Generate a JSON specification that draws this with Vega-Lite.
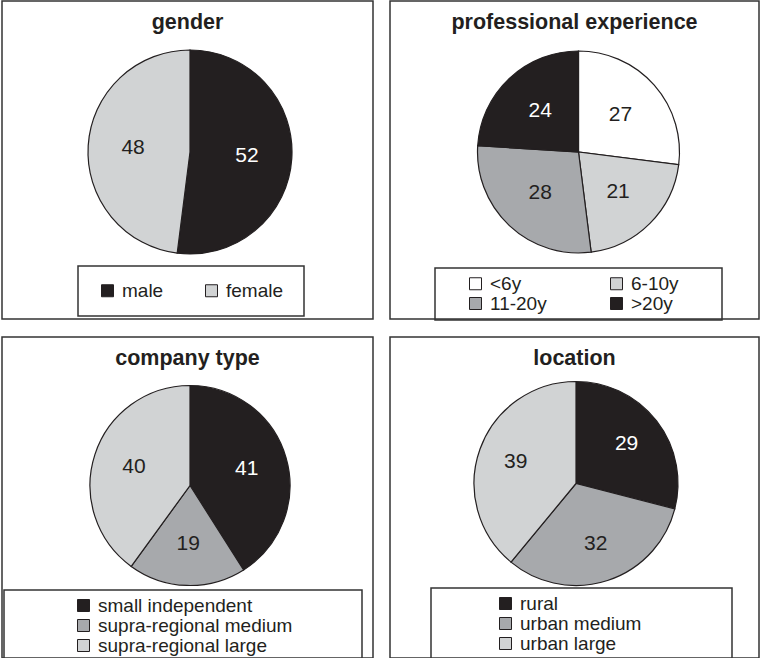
{
  "$schema": "https://vega.github.io/schema/vega-lite/v6.json",
  "padding": {"left": 1, "top": 0, "right": 0, "bottom": 0},
  "spacing": 14,
  "resolve": {"scale": {"color": "independent", "theta": "independent"}, "legend": {"color": "independent"}},
  "config": {
    "font": "Liberation Sans",
    "view": {"stroke": "#333333", "strokeWidth": 1.5},
    "title": {"font": "Liberation Sans", "fontSize": 21.5, "fontWeight": "bold", "color": "#231f20", "anchor": "middle", "offset": -32},
    "text": {"font": "Liberation Sans", "fontSize": 21},
    "legend": {
      "title": null,
      "labelFont": "Liberation Sans",
      "labelFontSize": 19,
      "labelColor": "#231f20",
      "labelLimit": 500,
      "labelOffset": 5,
      "symbolType": "square",
      "symbolSize": 144,
      "symbolStrokeColor": "#231f20",
      "symbolStrokeWidth": 1,
      "rowPadding": 0,
      "strokeColor": "#333333"
    }
  },
  "vconcat": [
    {
      "spacing": 15,
      "resolve": {"scale": {"color": "independent", "theta": "independent"}, "legend": {"color": "independent"}},
      "hconcat": [
        {
          "width": 371,
          "height": 318,
          "view": {"stroke": "#333333", "strokeWidth": 1.5},
          "title": {"text": "gender"},
          "data": {"values": [
            {"c": "male", "v": 52, "i": 1},
            {"c": "female", "v": 48, "i": 2}
          ]},
          "layer": [
            {
              "mark": {"type": "arc", "radius": 102, "xOffset": 2.5, "yOffset": -8, "stroke": "#231f20", "strokeWidth": 1.2},
              "encoding": {
                "theta": {"field": "v", "type": "quantitative", "stack": true},
                "order": {"field": "i", "type": "quantitative"},
                "color": {
                  "field": "c", "type": "nominal",
                  "scale": {"domain": ["male", "female"], "range": ["#231f20", "#d1d3d4"]},
                  "legend": {
                    "orient": "none", "legendX": 76, "legendY": 265,
                    "columns": 2, "columnPadding": 33, "padding": 15, "symbolOffset": 5,
                    "labelExpr": "datum.label == 'female' ? datum.label + '\u00a0\u200b' : datum.label",
                    "encode": {
                      "legend": {"update": {"stroke": {"value": "#333333"}, "strokeWidth": {"value": 1.5}}},
                      "symbols": {"update": {"stroke": {"value": "#231f20"}, "strokeWidth": {"value": 1}}}
                    }
                  }
                }
              }
            },
            {
              "mark": {"type": "text", "radius": 57, "xOffset": 2.5, "yOffset": -8},
              "encoding": {
                "theta": {"field": "v", "type": "quantitative", "stack": true},
                "order": {"field": "i", "type": "quantitative"},
                "detail": {"field": "c", "type": "nominal"},
                "text": {"field": "v", "type": "quantitative"},
                "color": {"condition": {"test": "datum.c == 'male'", "value": "#ffffff"}, "value": "#231f20"}
              }
            }
          ]
        },
        {
          "width": 369,
          "height": 318,
          "view": {"stroke": "#333333", "strokeWidth": 1.5},
          "title": {"text": "professional experience"},
          "data": {"values": [
            {"c": "<6y", "v": 27, "i": 1},
            {"c": "6-10y", "v": 21, "i": 2},
            {"c": "11-20y", "v": 28, "i": 3},
            {"c": ">20y", "v": 24, "i": 4}
          ]},
          "layer": [
            {
              "mark": {"type": "arc", "radius": 101, "xOffset": 4, "yOffset": -8, "stroke": "#231f20", "strokeWidth": 1.2},
              "encoding": {
                "theta": {"field": "v", "type": "quantitative", "stack": true},
                "order": {"field": "i", "type": "quantitative"},
                "color": {
                  "field": "c", "type": "nominal",
                  "scale": {"domain": ["<6y", "11-20y", "6-10y", ">20y"], "range": ["#ffffff", "#a7a9ac", "#d1d3d4", "#231f20"]},
                  "legend": {
                    "orient": "none", "legendX": 45, "legendY": 267,
                    "columns": 2, "columnPadding": 35, "padding": 6, "symbolOffset": 25,
                    "labelExpr": "datum.label == '6-10y' ? datum.label + '\u00a0\u00a0\u00a0\u00a0\u00a0\u00a0\u00a0\u200b' : datum.label",
                    "encode": {
                      "legend": {"update": {"stroke": {"value": "#333333"}, "strokeWidth": {"value": 1.5}}},
                      "symbols": {"update": {"stroke": {"value": "#231f20"}, "strokeWidth": {"value": 1}}}
                    }
                  }
                }
              }
            },
            {
              "mark": {"type": "text", "radius": 56, "xOffset": 4, "yOffset": -8},
              "encoding": {
                "theta": {"field": "v", "type": "quantitative", "stack": true},
                "order": {"field": "i", "type": "quantitative"},
                "detail": {"field": "c", "type": "nominal"},
                "text": {"field": "v", "type": "quantitative"},
                "color": {"condition": {"test": "datum.c == '>20y'", "value": "#ffffff"}, "value": "#231f20"}
              }
            }
          ]
        }
      ]
    },
    {
      "spacing": 15,
      "resolve": {"scale": {"color": "independent", "theta": "independent"}, "legend": {"color": "independent"}},
      "hconcat": [
        {
          "width": 371,
          "height": 321,
          "view": {"stroke": "#333333", "strokeWidth": 1.5},
          "title": {"text": "company type"},
          "data": {"values": [
            {"c": "small independent", "v": 41, "i": 1},
            {"c": "supra-regional medium", "v": 19, "i": 2},
            {"c": "supra-regional large", "v": 40, "i": 3}
          ]},
          "layer": [
            {
              "mark": {"type": "arc", "radius": 100, "xOffset": 2.5, "yOffset": -12, "stroke": "#231f20", "strokeWidth": 1.2},
              "encoding": {
                "theta": {"field": "v", "type": "quantitative", "stack": true},
                "order": {"field": "i", "type": "quantitative"},
                "color": {
                  "field": "c", "type": "nominal",
                  "scale": {"domain": ["small independent", "supra-regional medium", "supra-regional large"], "range": ["#231f20", "#a7a9ac", "#d1d3d4"]},
                  "legend": {
                    "orient": "none", "legendX": 2, "legendY": 253,
                    "columns": 1, "padding": 6, "symbolOffset": 64,
                    "labelExpr": "datum.label + '\u00a0\u00a0\u00a0\u00a0\u00a0\u00a0\u00a0\u00a0\u00a0\u00a0\u00a0\u00a0\u200b'",
                    "encode": {
                      "legend": {"update": {"stroke": {"value": "#333333"}, "strokeWidth": {"value": 1.5}}},
                      "symbols": {"update": {"stroke": {"value": "#231f20"}, "strokeWidth": {"value": 1}}}
                    }
                  }
                }
              }
            },
            {
              "mark": {"type": "text", "radius": 59, "xOffset": 2.5, "yOffset": -12},
              "encoding": {
                "theta": {"field": "v", "type": "quantitative", "stack": true},
                "order": {"field": "i", "type": "quantitative"},
                "detail": {"field": "c", "type": "nominal"},
                "text": {"field": "v", "type": "quantitative"},
                "color": {"condition": {"test": "datum.c == 'small independent'", "value": "#ffffff"}, "value": "#231f20"}
              }
            }
          ]
        },
        {
          "width": 369,
          "height": 321,
          "view": {"stroke": "#333333", "strokeWidth": 1.5},
          "title": {"text": "location"},
          "data": {"values": [
            {"c": "rural", "v": 29, "i": 1},
            {"c": "urban medium", "v": 32, "i": 2},
            {"c": "urban large", "v": 39, "i": 3}
          ]},
          "layer": [
            {
              "mark": {"type": "arc", "radius": 102, "xOffset": 1.5, "yOffset": -14, "stroke": "#231f20", "strokeWidth": 1.2},
              "encoding": {
                "theta": {"field": "v", "type": "quantitative", "stack": true},
                "order": {"field": "i", "type": "quantitative"},
                "color": {
                  "field": "c", "type": "nominal",
                  "scale": {"domain": ["rural", "urban medium", "urban large"], "range": ["#231f20", "#a7a9ac", "#d1d3d4"]},
                  "legend": {
                    "orient": "none", "legendX": 41, "legendY": 251,
                    "columns": 1, "padding": 6, "symbolOffset": 59,
                    "labelExpr": "datum.label + '\u00a0\u00a0\u00a0\u00a0\u00a0\u00a0\u00a0\u00a0\u00a0\u00a0\u00a0\u00a0\u00a0\u00a0\u00a0\u00a0\u200b'",
                    "encode": {
                      "legend": {"update": {"stroke": {"value": "#333333"}, "strokeWidth": {"value": 1.5}}},
                      "symbols": {"update": {"stroke": {"value": "#231f20"}, "strokeWidth": {"value": 1}}}
                    }
                  }
                }
              }
            },
            {
              "mark": {"type": "text", "radius": 64, "xOffset": 1.5, "yOffset": -14},
              "encoding": {
                "theta": {"field": "v", "type": "quantitative", "stack": true},
                "order": {"field": "i", "type": "quantitative"},
                "detail": {"field": "c", "type": "nominal"},
                "text": {"field": "v", "type": "quantitative"},
                "color": {"condition": {"test": "datum.c == 'rural'", "value": "#ffffff"}, "value": "#231f20"}
              }
            }
          ]
        }
      ]
    }
  ]
}
